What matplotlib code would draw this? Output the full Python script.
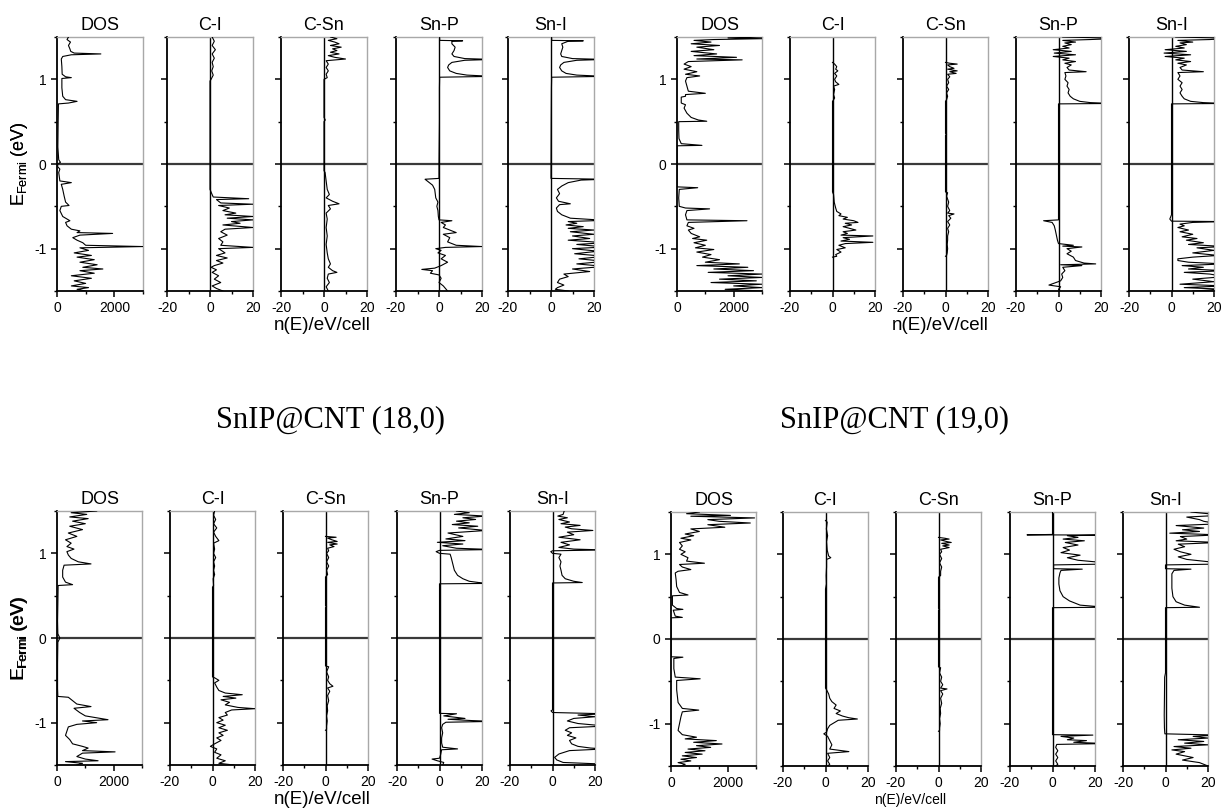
import matplotlib
matplotlib.use("Agg")
import matplotlib.pyplot as plt
from matplotlib.ticker import FixedLocator

plt.rcParams['font.family'] = ['Liberation Sans', 'DejaVu Sans']

W, H = 1222, 810

panel_names = ['DOS', 'C-I', 'C-Sn', 'Sn-P', 'Sn-I']
group_titles = ['SnIP@CNT (18,0)', 'SnIP@CNT (19,0)']
xlabel = 'n(E)/eV/cell'
ylabel = r'E$_{\mathregular{Fermi}}$ (eV)'

# ---------------- top-left group: (E, n) pairs ----------------
tl_dos = [(1.50, 400), (1.47, 350), (1.44, 470), (1.40, 400), (1.36, 450), (1.33, 480),
          (1.31, 600), (1.30, 1530), (1.29, 500), (1.27, 200), (1.24, 150), (1.15, 170),
          (1.06, 180), (1.03, 300), (1.02, 500), (1.01, 170), (0.90, 170), (0.80, 200),
          (0.76, 300), (0.74, 700), (0.72, 400), (0.71, 50), (0.50, 40), (0.20, 30),
          (0.05, 60), (0.02, 120), (0.00, 30), (-0.03, 20), (-0.06, 100), (-0.10, 60),
          (-0.15, 80), (-0.20, 100), (-0.22, 500), (-0.24, 150), (-0.30, 200), (-0.38, 250),
          (-0.45, 300), (-0.49, 420), (-0.50, 150), (-0.55, 100), (-0.62, 200), (-0.67, 450),
          (-0.69, 300), (-0.73, 350), (-0.77, 500), (-0.79, 800), (-0.81, 700), (-0.82, 1940),
          (-0.84, 800), (-0.87, 550), (-0.90, 700), (-0.93, 900), (-0.96, 1000), (-0.975, 3000),
          (-0.99, 800), (-1.02, 1100), (-1.05, 600), (-1.08, 1200), (-1.10, 700), (-1.13, 1300),
          (-1.16, 800), (-1.19, 1400), (-1.22, 900), (-1.24, 1600), (-1.26, 800), (-1.29, 1300),
          (-1.32, 500), (-1.35, 1200), (-1.38, 600), (-1.41, 1000), (-1.44, 500), (-1.46, 1100),
          (-1.48, 700), (-1.50, 1000)]
tl_ci = [(1.50, 1), (1.45, 2), (1.40, 1), (1.35, 2.5), (1.30, 1), (1.25, 2), (1.20, 1),
         (1.15, 1.5), (1.10, 0.8), (1.05, 1.5), (1.00, 0.5), (0.98, 0), (-0.30, 0),
         (-0.35, 0.8), (-0.39, 1.5), (-0.41, 18), (-0.42, 3), (-0.46, 5), (-0.475, 20),
         (-0.49, 4), (-0.52, 9), (-0.55, 6), (-0.58, 12), (-0.60, 7), (-0.62, 20), (-0.64, 8),
         (-0.66, 20), (-0.68, 10), (-0.70, 14), (-0.72, 6), (-0.75, 20), (-0.77, 7), (-0.80, 5),
         (-0.84, 8), (-0.88, 4), (-0.92, 6), (-0.96, 5), (-0.985, 20), (-1.00, 4), (-1.05, 7),
         (-1.08, 3), (-1.11, 8), (-1.14, 3), (-1.17, 6), (-1.20, 2), (-1.22, 0.5), (-1.25, 3),
         (-1.28, 1), (-1.32, 4), (-1.36, 2), (-1.40, 5), (-1.44, 1), (-1.47, 3), (-1.50, 6)]
tl_csn = [(1.50, 3), (1.48, 6), (1.46, 2), (1.44, 5), (1.42, 7), (1.40, 3), (1.38, 8),
          (1.36, 4), (1.34, 6), (1.32, 3), (1.30, 7), (1.28, 2), (1.26, 5), (1.24, 10),
          (1.22, 1), (1.18, 2), (1.14, 1), (1.10, 2), (1.06, 1), (1.02, 1.5), (1.00, 0),
          (0.55, 0), (0.52, 0.6), (0.50, 0), (-0.08, 0), (-0.10, 0.5), (-0.20, 1), (-0.30, 1.5),
          (-0.36, 2.5), (-0.40, 1), (-0.44, 4), (-0.47, 7), (-0.49, 2), (-0.53, 3), (-0.58, 1),
          (-0.65, 1.5), (-0.75, 1), (-0.85, 1.5), (-0.95, 1), (-1.05, 1.5), (-1.12, 2),
          (-1.18, 3), (-1.22, 2), (-1.26, 4), (-1.28, 6), (-1.30, 2), (-1.35, 1.5), (-1.40, 2.5),
          (-1.45, 1), (-1.50, 2)]
tl_snp = [(1.50, 0.3), (1.46, 0.3), (1.455, 11), (1.45, 6), (1.42, 6), (1.38, 7.5), (1.34, 7),
          (1.30, 6), (1.27, 7), (1.245, 12), (1.235, 25), (1.225, 12), (1.20, 6), (1.17, 4.5),
          (1.14, 4), (1.10, 5), (1.07, 8), (1.05, 13), (1.035, 25), (1.025, 0.3), (0.90, 0.2),
          (0.50, 0.2), (0.00, 0), (-0.17, 0), (-0.18, -6.5), (-0.20, -5.5), (-0.25, -3),
          (-0.30, -2), (-0.40, -1.5), (-0.45, -0.5), (-0.50, -1), (-0.55, -0.5), (-0.62, -0.3),
          (-0.66, 0), (-0.67, 6), (-0.69, 1), (-0.72, 3), (-0.75, 2), (-0.81, 8), (-0.83, 2),
          (-0.87, 5), (-0.92, 4), (-0.96, 8), (-0.975, 20), (-0.985, 3), (-1.00, -1.5),
          (-1.02, 1), (-1.05, -0.5), (-1.08, 3), (-1.12, 1), (-1.16, 4), (-1.20, 1), (-1.23, -2),
          (-1.245, -8), (-1.26, -3), (-1.29, -4), (-1.31, 0), (-1.35, 1), (-1.40, 0), (-1.44, 2),
          (-1.47, 3), (-1.50, 4)]
tl_sni = [(1.50, 0.3), (1.46, 0.3), (1.455, 15), (1.45, 8), (1.42, 5), (1.38, 5.5), (1.34, 5),
          (1.30, 4.5), (1.27, 5), (1.245, 10), (1.235, 25), (1.225, 12), (1.20, 6), (1.17, 4.5),
          (1.14, 4), (1.10, 5), (1.07, 7), (1.05, 12), (1.035, 25), (1.025, 0.3), (0.90, 0.2),
          (0.50, 0.1), (-0.17, 0), (-0.18, 25), (-0.19, 14), (-0.22, 8), (-0.26, 5), (-0.30, 3),
          (-0.35, 4), (-0.40, 2.5), (-0.44, 3.5), (-0.47, 9), (-0.48, 4), (-0.52, 2.5),
          (-0.56, 3), (-0.60, 5), (-0.64, 9), (-0.665, 25), (-0.68, 8), (-0.70, 12), (-0.72, 7),
          (-0.74, 15), (-0.76, 8), (-0.78, 20), (-0.80, 9), (-0.83, 20), (-0.85, 10), (-0.88, 18),
          (-0.90, 8), (-0.93, 25), (-0.95, 12), (-0.98, 25), (-1.00, 10), (-1.03, 22),
          (-1.06, 11), (-1.09, 25), (-1.12, 13), (-1.15, 25), (-1.18, 12), (-1.21, 25),
          (-1.24, 10), (-1.27, 18), (-1.30, 6), (-1.33, 8), (-1.36, 4), (-1.40, 3), (-1.43, 6),
          (-1.46, 3), (-1.48, 2), (-1.50, 8)]

# ---------------- top-right group ----------------
tr_dos = [(1.50, 3000), (1.49, 1800), (1.48, 3000), (1.47, 1300), (1.46, 600), (1.44, 1200),
          (1.42, 500), (1.40, 1500), (1.38, 700), (1.35, 1300), (1.33, 500), (1.30, 1400),
          (1.28, 600), (1.26, 2100), (1.24, 700), (1.23, 2300), (1.21, 400), (1.18, 250),
          (1.15, 500), (1.12, 250), (1.09, 700), (1.06, 300), (1.04, 800), (1.02, 350),
          (0.98, 300), (0.92, 350), (0.86, 400), (0.835, 1000), (0.82, 300), (0.80, 300),
          (0.79, 150), (0.72, 150), (0.70, 300), (0.66, 250), (0.60, 350), (0.55, 500),
          (0.52, 750), (0.505, 1050), (0.50, 60), (0.40, 60), (0.30, 70), (0.24, 150),
          (0.22, 880), (0.215, 0), (0.00, 0), (-0.27, 0), (-0.28, 730), (-0.30, 80), (-0.40, 60),
          (-0.50, 80), (-0.52, 300), (-0.53, 1150), (-0.55, 350), (-0.60, 300), (-0.66, 350),
          (-0.67, 2470), (-0.69, 400), (-0.73, 350), (-0.76, 600), (-0.78, 400), (-0.82, 500),
          (-0.86, 800), (-0.88, 550), (-0.90, 1050), (-0.93, 600), (-0.96, 1000), (-0.99, 650),
          (-1.01, 1300), (-1.04, 700), (-1.07, 1200), (-1.10, 900), (-1.13, 1500), (-1.16, 1000),
          (-1.18, 2200), (-1.20, 700), (-1.22, 2500), (-1.24, 1300), (-1.26, 2700), (-1.28, 1100),
          (-1.30, 3000), (-1.32, 1800), (-1.34, 3000), (-1.36, 1500), (-1.38, 2800), (-1.40, 1200),
          (-1.42, 3000), (-1.44, 2000), (-1.46, 3000), (-1.48, 1700), (-1.50, 3000)]
tr_ci = [(1.20, 0), (1.18, 1), (1.15, 2), (1.12, 1.5), (1.10, 2.5), (1.07, 1), (1.04, 2),
         (1.00, 1), (0.97, 1.5), (0.94, 3), (0.92, 0.5), (0.88, 1), (0.82, 0.5), (0.78, 1),
         (0.75, 0.3), (0.74, 0), (-0.33, 0), (-0.36, 0.5), (-0.45, 0.8), (-0.52, 1.5), (-0.56, 2),
         (-0.59, 4), (-0.61, 3), (-0.63, 7), (-0.65, 5), (-0.67, 10), (-0.69, 12), (-0.70, 6),
         (-0.72, 9), (-0.74, 5), (-0.76, 8), (-0.78, 11), (-0.80, 5), (-0.82, 7), (-0.84, 4),
         (-0.85, 19), (-0.87, 5), (-0.89, 8), (-0.91, 4), (-0.925, 19), (-0.94, 6), (-0.96, 3),
         (-0.99, 6), (-1.01, 2), (-1.04, 4), (-1.07, 1.5), (-1.09, 2), (-1.10, 0)]
tr_csn = [(1.20, 0), (1.19, 2), (1.18, 5.5), (1.17, 1), (1.15, 2), (1.13, 4), (1.12, 1),
          (1.10, 5.5), (1.09, 2), (1.07, 5), (1.06, 1), (1.03, 2), (1.00, 1), (0.96, 1.5),
          (0.92, 0.5), (0.88, 1.5), (0.84, 0.5), (0.80, 1), (0.76, 0.5), (0.74, 0), (0.36, 0),
          (0.35, 0.5), (0.34, 0), (-0.33, 0), (-0.34, 1), (-0.38, 0.5), (-0.45, 1.5), (-0.50, 1),
          (-0.55, 2), (-0.58, 1), (-0.59, 4), (-0.61, 1.5), (-0.64, 2.5), (-0.68, 1), (-0.72, 2),
          (-0.76, 1), (-0.80, 1.5), (-0.85, 1), (-0.90, 1), (-0.95, 0.8), (-1.00, 1), (-1.05, 0.8),
          (-1.08, 0.5), (-1.09, 0)]
tr_snp = [(1.50, 2), (1.49, 20), (1.48, 25), (1.47, 15), (1.46, 2), (1.44, 8), (1.43, 3),
          (1.41, 6), (1.39, 2), (1.37, 5), (1.35, -2.5), (1.33, 6), (1.31, -2), (1.29, 8),
          (1.27, -2.5), (1.25, 5), (1.23, 2), (1.21, 8), (1.19, 3), (1.17, 6), (1.14, 4),
          (1.11, 5), (1.09, 13), (1.08, 3), (1.04, 3.5), (1.00, 3), (0.96, 4.5), (0.92, 4),
          (0.88, 5), (0.84, 4.5), (0.80, 5.5), (0.77, 7), (0.74, 10), (0.725, 15), (0.715, 25),
          (0.71, 0), (0.00, 0), (-0.66, 0), (-0.67, -7), (-0.69, -3), (-0.73, -2), (-0.78, -1.5),
          (-0.84, -1), (-0.90, -0.5), (-0.94, 0), (-0.96, 7), (-0.97, 2), (-0.98, 11), (-1.00, 4),
          (-1.03, 6), (-1.06, 4), (-1.10, 7), (-1.14, 8), (-1.17, 12), (-1.18, 17.5), (-1.19, 1),
          (-1.20, 11), (-1.22, 2), (-1.26, 3), (-1.30, 1.5), (-1.34, 2), (-1.38, 1), (-1.43, -4.5),
          (-1.45, 1), (-1.48, 0), (-1.50, 0.5)]
tr_sni = [(1.50, 2), (1.49, 20), (1.48, 25), (1.47, 18), (1.46, 3), (1.44, 10), (1.43, 4),
          (1.41, 7), (1.39, 2), (1.37, 6), (1.35, -3), (1.33, 7), (1.31, -3.5), (1.29, 9),
          (1.27, -3), (1.25, 6), (1.23, 2), (1.21, 9), (1.19, 3), (1.17, 7), (1.14, 4), (1.11, 5),
          (1.09, 15), (1.08, 3), (1.04, 4), (1.00, 3), (0.96, 5), (0.92, 4), (0.88, 5), (0.84, 4),
          (0.80, 5), (0.77, 6), (0.74, 9), (0.725, 15), (0.715, 25), (0.71, 0), (0.00, 0),
          (-0.60, 0), (-0.65, -0.8), (-0.675, 0), (-0.68, 25), (-0.69, 10), (-0.71, 4), (-0.73, 6),
          (-0.75, 3), (-0.78, 8), (-0.80, 4), (-0.83, 10), (-0.86, 5), (-0.88, 12), (-0.90, 7),
          (-0.93, 15), (-0.95, 8), (-0.975, 25), (-0.99, 12), (-1.02, 20), (-1.05, 10),
          (-1.08, 22), (-1.10, 10), (-1.12, 3), (-1.14, 3), (-1.16, 8), (-1.18, 25), (-1.20, 5),
          (-1.22, 15), (-1.24, 8), (-1.26, 25), (-1.28, 6), (-1.30, 18), (-1.33, 25), (-1.36, 10),
          (-1.39, 20), (-1.42, 4), (-1.44, 25), (-1.46, 6), (-1.48, 25), (-1.50, 10)]

# ---------------- bottom-left group ----------------
bl_dos = [(1.50, 1400), (1.48, 500), (1.46, 1050), (1.43, 450), (1.41, 1100), (1.38, 550),
          (1.35, 1000), (1.32, 450), (1.28, 900), (1.24, 400), (1.20, 700), (1.16, 300),
          (1.12, 500), (1.08, 350), (1.05, 600), (1.02, 350), (0.98, 400), (0.94, 500),
          (0.90, 750), (0.875, 1200), (0.86, 250), (0.80, 200), (0.72, 200), (0.66, 300),
          (0.63, 550), (0.62, 40), (0.40, 30), (0.20, 20), (0.05, 30), (0.00, 100), (-0.05, 30),
          (-0.30, 20), (-0.60, 20), (-0.69, 30), (-0.70, 400), (-0.74, 550), (-0.78, 700),
          (-0.81, 1200), (-0.83, 600), (-0.88, 800), (-0.92, 1000), (-0.965, 1800), (-0.98, 900),
          (-1.00, 1400), (-1.02, 700), (-1.05, 400), (-1.10, 350), (-1.15, 300), (-1.20, 450),
          (-1.25, 550), (-1.28, 900), (-1.30, 1100), (-1.33, 900), (-1.345, 2050), (-1.36, 900),
          (-1.40, 700), (-1.43, 1000), (-1.45, 1450), (-1.46, 300), (-1.48, 900), (-1.50, 700)]
bl_ci = [(1.50, 1), (1.45, 0.5), (1.40, 1.5), (1.35, 0.5), (1.30, 2), (1.25, 0.5), (1.20, 1.5),
         (1.15, 3), (1.12, 0.5), (1.05, 1), (1.00, 0.5), (0.95, 1.5), (0.90, 0.5), (0.85, 1),
         (0.80, 0.5), (0.75, 1), (0.70, 0.3), (0.62, 0.5), (0.60, 0), (-0.46, 0), (-0.47, 1),
         (-0.50, 3), (-0.53, 1), (-0.58, 2), (-0.62, 3), (-0.65, 6), (-0.67, 14), (-0.69, 5),
         (-0.71, 11), (-0.73, 4), (-0.76, 8), (-0.79, 6), (-0.82, 12), (-0.835, 20), (-0.85, 9),
         (-0.88, 6), (-0.91, 7), (-0.94, 3), (-0.97, 5), (-1.00, 2), (-1.03, 6), (-1.06, 3),
         (-1.09, 7), (-1.12, 3), (-1.15, 5), (-1.18, 2), (-1.21, 4), (-1.25, 1), (-1.28, -1),
         (-1.31, 2), (-1.35, 1), (-1.38, 4), (-1.42, 2), (-1.45, 6), (-1.48, 3), (-1.50, 10)]
bl_csn = [(1.20, 0), (1.19, 5), (1.18, 1), (1.16, 3), (1.14, 5.5), (1.13, 1), (1.11, 5.5),
          (1.10, 2), (1.08, 4), (1.06, 1), (1.03, 1.5), (1.00, 0.5), (0.95, 1.5), (0.90, 0.5),
          (0.85, 1.5), (0.80, 0.5), (0.75, 1), (0.72, 0), (0.38, 0), (0.37, 0.5), (0.36, 0),
          (-0.33, 0), (-0.34, 1.5), (-0.40, 0.5), (-0.46, 1.5), (-0.50, 1), (-0.54, 2),
          (-0.57, 3.5), (-0.59, 1), (-0.63, 2), (-0.68, 1), (-0.74, 1.5), (-0.80, 0.8),
          (-0.86, 1), (-0.92, 0.5), (-0.98, 0.8), (-1.04, 0.5), (-1.08, 0.5), (-1.09, 0)]
bl_snp = [(1.50, 8), (1.48, 14), (1.46, 7), (1.44, 22), (1.42, 11), (1.40, 17), (1.38, 8),
          (1.36, 14), (1.34, 6), (1.32, 18), (1.30, 9), (1.27, 22), (1.24, 4), (1.20, 11),
          (1.17, 3), (1.15, 12), (1.13, -1), (1.11, 11), (1.09, 1.5), (1.06, 8), (1.045, 25),
          (1.035, 0), (1.02, -1.6), (1.00, 0), (0.99, 5), (0.95, 5.5), (0.90, 6), (0.85, 6.5),
          (0.80, 7), (0.74, 8.5), (0.70, 11), (0.67, 14), (0.65, 20), (0.645, 25), (0.64, 0),
          (0.00, 0), (-0.89, 0), (-0.895, 8), (-0.92, 2), (-0.95, 12), (-0.96, 4), (-0.975, 15),
          (-0.985, 25), (-0.995, 3), (-1.02, 1.5), (-1.06, 1), (-1.12, 1.5), (-1.18, 1),
          (-1.24, 1), (-1.29, 1.5), (-1.31, 8.5), (-1.32, 1), (-1.38, 0.5), (-1.42, 0),
          (-1.43, -3.5), (-1.45, -1), (-1.47, 2), (-1.50, 1.5)]
bl_sni = [(1.50, 5.5), (1.46, 5), (1.44, 2.5), (1.42, 7), (1.40, 3), (1.37, 8), (1.35, 4),
          (1.33, 13), (1.31, 6), (1.29, 9), (1.27, 19), (1.25, 7), (1.22, 10), (1.19, 3),
          (1.16, 13), (1.13, 4), (1.10, 8), (1.07, 3), (1.05, 10), (1.04, 25), (1.03, 0),
          (1.02, -0.8), (1.00, 0), (0.99, 4), (0.95, 3), (0.90, 4), (0.85, 3.5), (0.80, 4),
          (0.74, 4.5), (0.70, 6), (0.67, 10), (0.655, 14), (0.65, 0), (0.00, 0), (-0.85, 0),
          (-0.86, -0.7), (-0.88, 0), (-0.895, 25), (-0.91, 12), (-0.93, 20), (-0.95, 10),
          (-0.98, 7), (-1.01, 12), (-1.04, 25), (-1.06, 8), (-1.09, 6), (-1.12, 9), (-1.15, 7),
          (-1.18, 11), (-1.21, 8), (-1.25, 9), (-1.28, 12), (-1.30, 18), (-1.31, 25), (-1.33, 8),
          (-1.37, 3), (-1.41, 1), (-1.44, 2), (-1.47, 5), (-1.49, 25), (-1.50, 20)]

# ---------------- bottom-right group ----------------
br_dos = [(1.50, 1000), (1.48, 550), (1.46, 2100), (1.45, 700), (1.43, 2950), (1.41, 1300),
          (1.39, 1700), (1.37, 2800), (1.35, 1300), (1.32, 1900), (1.30, 700), (1.27, 1000),
          (1.24, 500), (1.22, 800), (1.19, 350), (1.17, 700), (1.14, 300), (1.10, 400),
          (1.06, 300), (1.03, 500), (1.00, 350), (0.96, 600), (0.92, 550), (0.895, 1180),
          (0.88, 300), (0.85, 400), (0.82, 700), (0.80, 250), (0.78, 150), (0.70, 180),
          (0.62, 200), (0.55, 300), (0.52, 600), (0.51, 50), (0.40, 50), (0.36, 200),
          (0.35, 420), (0.34, 80), (0.27, 150), (0.255, 400), (0.25, 0), (0.00, 0), (-0.21, 0),
          (-0.215, 420), (-0.23, 100), (-0.35, 100), (-0.45, 150), (-0.47, 1030), (-0.49, 200),
          (-0.60, 200), (-0.75, 250), (-0.82, 400), (-0.84, 980), (-0.86, 400), (-0.92, 350),
          (-1.00, 300), (-1.08, 250), (-1.13, 400), (-1.16, 900), (-1.18, 500), (-1.20, 1600),
          (-1.22, 800), (-1.24, 1800), (-1.26, 900), (-1.28, 1400), (-1.30, 600), (-1.32, 1200),
          (-1.34, 500), (-1.36, 1100), (-1.38, 400), (-1.40, 900), (-1.42, 350), (-1.44, 700),
          (-1.46, 250), (-1.48, 500), (-1.50, 350)]
br_ci = [(1.40, 0), (1.38, 0.8), (1.30, 0.4), (1.22, 1), (1.15, 0.5), (1.05, 0.8), (0.98, 1.5),
         (0.96, 2.5), (0.94, 0.5), (0.85, 0.5), (0.75, 0.3), (0.65, 0.4), (0.59, 0), (-0.58, 0),
         (-0.60, 0.5), (-0.65, 1.5), (-0.70, 2), (-0.74, 3), (-0.78, 5), (-0.82, 4), (-0.85, 7),
         (-0.88, 5), (-0.91, 8), (-0.93, 11), (-0.945, 15), (-0.96, 6), (-0.99, 4), (-1.02, 2),
         (-1.06, 1), (-1.10, 0.5), (-1.12, -0.8), (-1.15, 1), (-1.20, 2), (-1.25, 3), (-1.30, 2),
         (-1.33, 11), (-1.35, 1), (-1.40, 2), (-1.44, 1), (-1.48, 2), (-1.50, 1)]
br_csn = [(1.20, 0), (1.19, 3), (1.18, 5), (1.17, 1), (1.15, 4), (1.14, 6), (1.13, 1.5),
          (1.11, 5), (1.10, 2), (1.08, 5), (1.06, 1), (1.03, 1.5), (1.00, 0.5), (0.95, 1.5),
          (0.90, 0.5), (0.85, 1.5), (0.80, 1), (0.75, 1), (0.73, 0), (0.36, 0), (0.35, 0.5),
          (0.34, 0), (-0.33, 0), (-0.34, 1), (-0.40, 0.5), (-0.45, 1.5), (-0.50, 1), (-0.54, 2),
          (-0.58, 1), (-0.59, 4), (-0.61, 1), (-0.65, 2), (-0.70, 1), (-0.76, 1.5), (-0.82, 0.8),
          (-0.88, 1), (-0.94, 0.5), (-1.00, 0.8), (-1.05, 0.5), (-1.08, 0.5), (-1.09, 0)]
br_snp = [(1.50, 0), (1.235, 0), (1.23, -12), (1.228, 25), (1.22, 7), (1.20, 12), (1.18, 5),
          (1.16, 15), (1.14, 6), (1.11, 12), (1.08, 5), (1.05, 8), (1.02, 4), (0.99, 13),
          (0.96, 7), (0.93, 12), (0.90, 25), (0.885, 25), (0.875, 0.5), (0.83, 0.5), (0.825, 14),
          (0.81, 4), (0.78, 3.5), (0.72, 3), (0.65, 3), (0.57, 3.5), (0.50, 5), (0.45, 8),
          (0.40, 13), (0.375, 25), (0.37, 0), (0.00, 0), (-1.13, 0), (-1.135, 19), (-1.15, 4),
          (-1.17, 10), (-1.19, 7), (-1.20, 16), (-1.22, 10), (-1.235, 25), (-1.245, 2),
          (-1.28, 1.5), (-1.32, 2.5), (-1.36, 1.5), (-1.40, 2.5), (-1.44, 1.5), (-1.48, 2.5),
          (-1.50, 1.5)]
br_sni = [(1.50, 12), (1.48, 20), (1.46, 25), (1.44, 10), (1.41, 16), (1.39, 18), (1.36, 25),
          (1.34, 5), (1.31, 18), (1.29, 8), (1.27, 16), (1.25, 2), (1.23, 25), (1.21, 7),
          (1.18, 10), (1.16, 5), (1.14, 25), (1.12, 6), (1.09, 9), (1.06, 4), (1.03, 7),
          (1.00, 12), (0.97, 6), (0.94, 10), (0.90, 25), (0.885, 25), (0.875, 0), (0.83, 0),
          (0.825, 12), (0.81, 4), (0.77, 3), (0.70, 3), (0.60, 3), (0.50, 3.5), (0.44, 5),
          (0.40, 9), (0.375, 16), (0.37, 0), (0.00, 0), (-0.40, 0), (-0.45, -0.4), (-0.70, -0.5),
          (-0.90, -0.6), (-1.05, -0.5), (-1.12, -0.3), (-1.135, 25), (-1.15, 13), (-1.17, 20),
          (-1.19, 6), (-1.21, 18), (-1.23, 9), (-1.25, 20), (-1.27, 4), (-1.29, 12), (-1.31, 3),
          (-1.33, 9), (-1.36, 5), (-1.40, 13), (-1.43, 8), (-1.46, 16), (-1.50, 20)]

# panel placement in pixels: left edges, top, width, height
groups = [
    dict(lefts=[57, 167, 281, 396, 508], top=37, w=86,
         curves=[tl_dos, tl_ci, tl_csn, tl_snp, tl_sni], xlab=(322, 326, 13.5)),
    dict(lefts=[677, 790, 903, 1016, 1129], top=37, w=85,
         curves=[tr_dos, tr_ci, tr_csn, tr_snp, tr_sni], xlab=(940, 326, 13.5)),
    dict(lefts=[57, 170, 283, 397, 510], top=511, w=85,
         curves=[bl_dos, bl_ci, bl_csn, bl_snp, bl_sni], xlab=(322, 799, 13.5)),
    dict(lefts=[671, 783, 896, 1010, 1123], top=512, w=85,
         curves=[br_dos, br_ci, br_csn, br_snp, br_sni], xlab=(910, 800, 10)),
]
PH = 254

fig = plt.figure(figsize=(W / 100, H / 100), dpi=100)


def px_axes(left, top, width, height):
    return fig.add_axes([left / W, 1 - (top + height) / H, width / W, height / H])


for g in groups:
    for k, (name, pts) in enumerate(zip(panel_names, g['curves'])):
        ax = px_axes(g['lefts'][k], g['top'], g['w'], PH)
        e, n = zip(*pts)
        dos = (k == 0)

        ax.axhline(0, color='#3a3a3a', lw=1.6, zorder=1)
        if not dos:
            ax.axvline(0, color='black', lw=1.0, zorder=2)
        ax.plot(n, e, color='black', lw=0.8, zorder=3)

        ax.set_ylim(-1.5, 1.5)
        ax.yaxis.set_major_locator(FixedLocator([-1, 0, 1]))
        ax.yaxis.set_minor_locator(FixedLocator([-1.5, -0.5, 0.5, 1.5]))
        if dos:
            ax.set_xlim(0, 3000)
            ax.xaxis.set_major_locator(FixedLocator([0, 2000]))
            ax.xaxis.set_minor_locator(FixedLocator([1000, 3000]))
            ax.set_xticklabels(['0', '2000'])
            ax.set_yticklabels(['-1', '0', '1'])
            fig.text(20 / W, 1 - (g['top'] + PH / 2) / H, ylabel, rotation=90,
                     ha='center', va='center', fontsize=13)
        else:
            ax.set_xlim(-20, 20)
            ax.xaxis.set_major_locator(FixedLocator([-20, 0, 20]))
            ax.xaxis.set_minor_locator(FixedLocator([-10, 10]))
            ax.set_xticklabels(['-20', '0', '20'])
            ax.set_yticklabels([])

        ax.tick_params(which='major', direction='out', length=4.5, width=1.1,
                       labelsize=10, pad=3)
        ax.tick_params(which='minor', direction='out', length=2.5, width=1.0)
        ax.tick_params(axis='y', which='both', right=False)
        ax.tick_params(axis='x', which='both', top=False)
        for side in ('left', 'bottom'):
            ax.spines[side].set_color('black')
            ax.spines[side].set_linewidth(1.3)
        for side in ('top', 'right'):
            ax.spines[side].set_color('#a8a8a8')
            ax.spines[side].set_linewidth(1.0)
        ax.set_title(name, fontsize=13, pad=5)

    x, y, fs = g['xlab']
    fig.text(x / W, 1 - y / H, xlabel, ha='center', va='center', fontsize=fs)

fig.text(330 / W, 1 - 420 / H, group_titles[0], ha='center', va='center',
         fontsize=22, family='Liberation Serif')
fig.text(894 / W, 1 - 420 / H, group_titles[1], ha='center', va='center',
         fontsize=22, family='Liberation Serif')

fig.savefig('out.png', dpi=100)
